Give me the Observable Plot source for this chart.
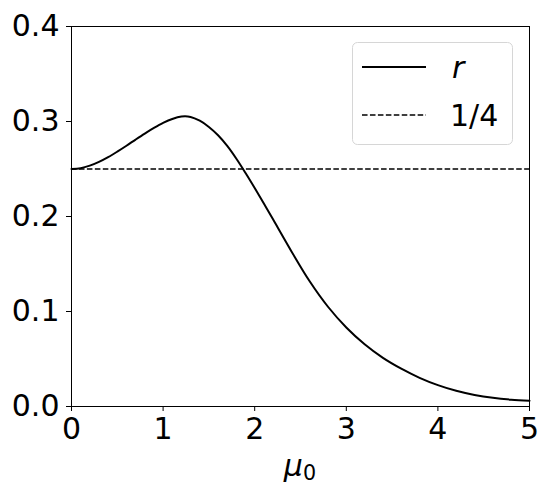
<!DOCTYPE html>
<html>
<head>
<meta charset="utf-8">
<script src="https://cdn.jsdelivr.net/npm/d3@7"></script>
<script src="https://cdn.jsdelivr.net/npm/@observablehq/plot@0.6"></script>
<style>
  html, body { margin: 0; padding: 0; background: #fff; }
  svg { display: block; }
</style>
</head>
<body>
<div id="chart"></div>
<script>
// Data
const mu0 = [0, 0.1, 0.2, 0.3, 0.4, 0.5, 0.6, 0.7, 0.8, 0.9, 1.0, 1.1, 1.2, 1.3, 1.4, 1.5, 1.6, 1.7, 1.8, 1.9, 2.0, 2.1, 2.2, 2.4, 2.6, 2.8, 3.0, 3.2, 3.4, 3.6, 3.8, 4.0, 4.2, 4.4, 4.6, 4.8, 5.0];
const rValues = [0.2500, 0.2508, 0.2535, 0.2575, 0.2625, 0.2683, 0.2745, 0.2810, 0.2873, 0.2932, 0.2985, 0.3027, 0.3052, 0.3048, 0.3008, 0.2943, 0.2855, 0.2743, 0.2608, 0.2458, 0.2300, 0.2137, 0.1970, 0.1635, 0.1318, 0.1050, 0.0832, 0.0655, 0.0512, 0.0398, 0.0302, 0.0225, 0.0165, 0.0121, 0.0091, 0.0072, 0.0061];
const quarter = [0.25];
const xTicks = [0, 1, 2, 3, 4, 5];
const yTicks = [0, 0.1, 0.2, 0.3, 0.4];
const seriesLabels = ["r", "1/4"];

const data = mu0.map((m, i) => ({mu: m, r: rValues[i]}));

const font = "'DejaVu Sans', sans-serif";
const fs = 30;

const chart = Plot.plot({
  width: 550,
  height: 493,
  marginLeft: 71,
  marginRight: 21,
  marginTop: 26,
  marginBottom: 87,
  style: {fontFamily: font, fontSize: fs + "px", color: "#000", background: "#fff", overflow: "visible"},
  x: {domain: [0, 5]},
  y: {domain: [0, 0.4]},
  marks: [
    Plot.axisY({ticks: yTicks, tickFormat: d3.format(".1f"), tickSize: 5, tickPadding: 7, fontSize: fs, label: null, strokeWidth: 1}),
    Plot.axisX({ticks: xTicks, tickFormat: d => String(d), tickSize: 5, tickPadding: 6, fontSize: fs, label: null, strokeWidth: 1}),
    Plot.ruleY(quarter, {stroke: "#000", strokeWidth: 1.5, strokeDasharray: "5.55,2.4"}),
    Plot.line(data, {x: "mu", y: "r", stroke: "#000", strokeWidth: 2, curve: "catmull-rom"}),
    Plot.frame({stroke: "#000", strokeWidth: 1})
  ]
});

const svg = d3.select(chart);

// x-axis label: italic mu with subscript 0
const xl = svg.append("text")
  .attr("x", 300)
  .attr("y", 476)
  .attr("text-anchor", "middle")
  .attr("font-family", font)
  .attr("font-size", fs)
  .attr("fill", "#000");
xl.append("tspan").attr("font-style", "italic").text("μ");
xl.append("tspan").attr("font-size", fs * 0.69).attr("dy", 4).text("0");

// Legend
const lg = svg.append("g").attr("text-anchor", "start");
lg.append("rect")
  .attr("x", 352.5).attr("y", 42.5).attr("width", 160).attr("height", 102)
  .attr("rx", 5).attr("fill", "#fff").attr("fill-opacity", 0.8)
  .attr("stroke", "#d6d6d6").attr("stroke-width", 1);
lg.append("line").attr("x1", 362).attr("x2", 426).attr("y1", 67).attr("y2", 67)
  .attr("stroke", "#000").attr("stroke-width", 2);
lg.append("line").attr("x1", 362).attr("x2", 426).attr("y1", 115).attr("y2", 115)
  .attr("stroke", "#000").attr("stroke-width", 1.5).attr("stroke-dasharray", "5.55,2.4");
lg.append("text").attr("x", 452).attr("y", 78).attr("font-family", font).attr("font-size", fs)
  .attr("font-style", "italic").attr("fill", "#000").text(seriesLabels[0]);
lg.append("text").attr("x", 450).attr("y", 126).attr("font-family", font).attr("font-size", fs)
  .attr("fill", "#000").text(seriesLabels[1]);

document.getElementById("chart").appendChild(chart);
</script>
</body>
</html>
